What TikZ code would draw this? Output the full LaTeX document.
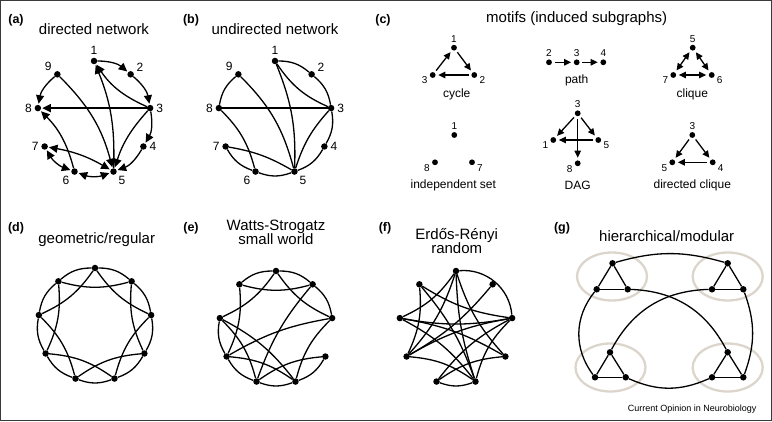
\documentclass[tikz,border=0pt]{standalone}
\usepackage{fontspec}
\setmainfont{Liberation Sans}
\usetikzlibrary{shapes.geometric, arrows.meta, positioning}
\usepackage{xcolor}
\definecolor{NetInk}{HTML}{000000}
\definecolor{NetFrame}{HTML}{3A3A3A}
\definecolor{NetModule}{HTML}{DCD5CB}
\tikzset{
    % Dot and text styles
    vertex/.style={
        circle,
        fill=NetInk,
        inner sep=0pt,
        minimum size=6.5pt
    },
    motifvertex/.style={
        circle,
        fill=NetInk,
        inner sep=0pt,
        minimum size=5.8pt
    },
    panel/.style={
        font=\fontsize{12.5}{14}\selectfont\bfseries
    },
    title/.style={
        font=\fontsize{15}{14.3}\selectfont,
        align=center
    },
    numlabel/.style={
        font=\fontsize{12}{14}\selectfont,
        inner sep=1.5pt
    },
    motiflabel/.style={
        font=\fontsize{10}{12}\selectfont,
        inner sep=1pt
    },
    caption/.style={
        font=\fontsize{12}{14}\selectfont
    },
    credit/.style={
        font=\fontsize{9}{11}\selectfont
    },
    module/.style={
        ellipse,
        draw=NetModule,
        line width=2.3pt,
        inner sep=0pt,
        minimum width=70pt,
        minimum height=48pt
    },
    outerframe/.style={
        draw=NetFrame,
        line width=1.2pt
    },
    % Line styles
    netline/.style={
        line width=1.3pt,
        draw=NetInk
    },
    rimline/.style={
        netline,
        bend left=20
    },
    chordline/.style={
        netline,
        bend right=15
    },
    arrow/.style={
        netline,
        -{Triangle[length=8.5pt, width=8pt]},
        shorten >=1pt
    },
    twoway/.style={
        netline,
        {Triangle[length=8.5pt, width=8pt]}-{Triangle[length=8.5pt, width=8pt]},
        shorten >=1pt,
        shorten <=1pt
    },
    motifarrow/.style={
        netline,
        -{Triangle[length=7pt, width=6.5pt]},
        shorten >=2.5pt,
        shorten <=2.5pt
    },
    motiftwoway/.style={
        netline,
        {Triangle[length=7pt, width=6.5pt]}-{Triangle[length=7pt, width=6.5pt]},
        shorten >=2.5pt,
        shorten <=2.5pt
    }
}

\begin{document}
\begin{tikzpicture}[x=1pt, y=1pt, label distance=1pt]
    \useasboundingbox (0,0) rectangle (772,421);
    \draw[outerframe] (0.6,0.6) rectangle (771.4,420.4);

    \node[panel] (alabel) at (16,401) {(a)};
    \node[title] (atitle) at (94,391.7) {directed network};
    \begin{scope}[shift={(94,303)}]
        \node[vertex, label={[numlabel]90:1}] (a1) at (90:57) {};
        \node[vertex, label={[numlabel]20:2}] (a2) at (50:57) {};
        \node[vertex, label={[numlabel]0:3}] (a3) at (10:57) {};
        \node[vertex, label={[numlabel]0:4}] (a4) at (-30:57) {};
        \node[vertex, label={[numlabel]-40:5}] (a5) at (-70:57) {};
        \node[vertex, label={[numlabel]-142:6}] (a6) at (-110:57) {};
        \node[vertex, label={[numlabel]180:7}] (a7) at (-150:57) {};
        \node[vertex, label={[numlabel]180:8}] (a8) at (170:57) {};
        \node[vertex, label={[numlabel]160:9}] (a9) at (130:57) {};
    \end{scope}

    \draw[arrow, bend left=20] (a1) to (a2);
    \draw[arrow, bend left=20] (a2) to (a3);
    \draw[arrow, bend left=16] (a3) to (a1);
    \draw[arrow] (a3) -- (a8);
    \draw[arrow, bend left=20] (a3) to (a4);
    \draw[arrow, bend right=12] (a3) to (a5);
    \draw[arrow, bend left=20] (a4) to (a5);
    \draw[arrow, bend right=12] (a5) to (a1);
    \draw[arrow, bend right=20] (a9) to (a8);
    \draw[arrow, bend left=15] (a9) to (a5);
    \draw[arrow, bend right=15] (a6) to (a8);
    \draw[twoway, bend left=10] (a7) to (a5);
    \draw[twoway, bend left=20] (a6) to (a7);
    \draw[twoway, bend left=20] (a5) to (a6);

    \node[panel] (blabel) at (191,401) {(b)};
    \node[title] (btitle) at (275,391.7) {undirected network};
    \begin{scope}[shift={(275,303)}]
        \node[vertex, label={[numlabel]90:1}] (b1) at (90:57) {};
        \node[vertex, label={[numlabel]20:2}] (b2) at (50:57) {};
        \node[vertex, label={[numlabel]0:3}] (b3) at (10:57) {};
        \node[vertex, label={[numlabel]0:4}] (b4) at (-30:57) {};
        \node[vertex, label={[numlabel]-40:5}] (b5) at (-70:57) {};
        \node[vertex, label={[numlabel]-142:6}] (b6) at (-110:57) {};
        \node[vertex, label={[numlabel]180:7}] (b7) at (-150:57) {};
        \node[vertex, label={[numlabel]180:8}] (b8) at (170:57) {};
        \node[vertex, label={[numlabel]160:9}] (b9) at (130:57) {};
    \end{scope}

    \draw[rimline] (b1) to (b2);
    \draw[rimline] (b2) to (b3);
    \draw[netline, bend right=16] (b1) to (b3);
    \draw[netline] (b3) -- (b8);
    \draw[rimline] (b3) to (b4);
    \draw[netline, bend right=12] (b3) to (b5);
    \draw[rimline] (b4) to (b5);
    \draw[netline, bend left=12] (b1) to (b5);
    \draw[rimline] (b8) to (b9);
    \draw[netline, bend left=15] (b9) to (b5);
    \draw[netline, bend left=15] (b8) to (b6);
    \draw[netline, bend left=10] (b7) to (b5);
    \draw[rimline] (b6) to (b7);
    \draw[rimline] (b5) to (b6);

    \node[panel] (clabel) at (383,401) {(c)};
    \node[title] (ctitle) at (576.7,402.5) {motifs (induced subgraphs)};

    \node[motifvertex, label={[motiflabel]90:1}] (cyc1) at (454,373.3) {};
    \node[motifvertex, label={[motiflabel]190:3}] (cyc3) at (432.7,346) {};
    \node[motifvertex, label={[motiflabel]-10:2}] (cyc2) at (474.3,346) {};
    \draw[motifarrow] (cyc3) -- (cyc1);
    \draw[motifarrow] (cyc1) -- (cyc2);
    \draw[motifarrow] (cyc2) -- (cyc3);
    \node[caption] (cyccap) at (456.7,327) {cycle};

    \node[motifvertex, label={[motiflabel]90:2}] (path2) at (549,358.7) {};
    \node[motifvertex, label={[motiflabel]90:3}] (path3) at (576.7,358.7) {};
    \node[motifvertex, label={[motiflabel]90:4}] (path4) at (603.3,358.7) {};
    \draw[motifarrow] (path2) -- (path3);
    \draw[motifarrow] (path3) -- (path4);
    \node[caption] (pathcap) at (576.7,341) {path};

    \node[motifvertex, label={[motiflabel]90:5}] (cliq5) at (692.7,373.3) {};
    \node[motifvertex, label={[motiflabel]190:7}] (cliq7) at (673.3,346) {};
    \node[motifvertex, label={[motiflabel]-10:6}] (cliq6) at (711.7,346) {};
    \draw[motiftwoway] (cliq7) -- (cliq5);
    \draw[motiftwoway] (cliq5) -- (cliq6);
    \draw[motiftwoway] (cliq7) -- (cliq6);
    \node[caption] (cliqcap) at (692.3,327) {clique};

    \node[motifvertex, label={[motiflabel]90:1}] (ind1) at (454.3,286) {};
    \node[motifvertex, label={[motiflabel]190:8}] (ind8) at (435,258.7) {};
    \node[motifvertex, label={[motiflabel]-10:7}] (ind7) at (472,258.7) {};
    \node[caption] (indcap) at (453.3,236) {independent set};

    \node[motifvertex, label={[motiflabel]90:3}] (dag3) at (577.7,307.7) {};
    \node[motifvertex, label={[motiflabel]190:1}] (dag1) at (553.3,281) {};
    \node[motifvertex, label={[motiflabel]-10:5}] (dag5) at (598.3,281) {};
    \node[motifvertex, label={[motiflabel]190:8}] (dag8) at (577.7,257.7) {};
    \draw[motifarrow] (dag3) -- (dag1);
    \draw[motifarrow] (dag3) -- (dag5);
    \draw[motifarrow] (dag5) -- (dag1);
    \draw[motifarrow] (dag3) -- (dag8);
    \node[caption] (dagcap) at (577.7,236) {DAG};

    \node[motifvertex, label={[motiflabel]90:3}] (dcl3) at (692.3,286) {};
    \node[motifvertex, label={[motiflabel]190:5}] (dcl5) at (672.3,258.7) {};
    \node[motifvertex, label={[motiflabel]-10:4}] (dcl4) at (712.7,258.7) {};
    \draw[motifarrow] (dcl3) -- (dcl5);
    \draw[motifarrow] (dcl3) -- (dcl4);
    \draw[motifarrow] (dcl4) -- (dcl5);
    \node[caption] (dclcap) at (692.3,236) {directed clique};

    \node[panel] (dlabel) at (16,192.7) {(d)};
    \node[title] (dtitle) at (96.7,181.7) {geometric/regular};
    \begin{scope}[shift={(95,96)}]
        \node[vertex] (d1) at (90:57) {};
        \node[vertex] (d2) at (50:57) {};
        \node[vertex] (d3) at (10:57) {};
        \node[vertex] (d4) at (-30:57) {};
        \node[vertex] (d5) at (-70:57) {};
        \node[vertex] (d6) at (-110:57) {};
        \node[vertex] (d7) at (-150:57) {};
        \node[vertex] (d8) at (170:57) {};
        \node[vertex] (d9) at (130:57) {};
    \end{scope}

    \draw[rimline] (d1) to (d2);
    \draw[rimline] (d2) to (d3);
    \draw[rimline] (d3) to (d4);
    \draw[rimline] (d4) to (d5);
    \draw[rimline] (d5) to (d6);
    \draw[rimline] (d6) to (d7);
    \draw[rimline] (d7) to (d8);
    \draw[rimline] (d8) to (d9);
    \draw[rimline] (d9) to (d1);
    \draw[chordline] (d1) to (d3);
    \draw[chordline] (d2) to (d4);
    \draw[chordline] (d3) to (d5);
    \draw[chordline] (d4) to (d6);
    \draw[chordline] (d5) to (d7);
    \draw[chordline] (d6) to (d8);
    \draw[chordline] (d7) to (d9);
    \draw[chordline] (d8) to (d1);
    \draw[chordline] (d9) to (d2);

    \node[panel] (elabel) at (191,192.7) {(e)};
    \node[title] (etitle) at (276,189) {Watts-Strogatz\\small world};
    \begin{scope}[shift={(276,93)}]
        \node[vertex] (e1) at (90:57) {};
        \node[vertex] (e2) at (50:57) {};
        \node[vertex] (e3) at (10:57) {};
        \node[vertex] (e4) at (-30:57) {};
        \node[vertex] (e5) at (-70:57) {};
        \node[vertex] (e6) at (-110:57) {};
        \node[vertex] (e7) at (-150:57) {};
        \node[vertex] (e8) at (170:57) {};
        \node[vertex] (e9) at (130:57) {};
    \end{scope}

    \draw[rimline] (e9) to (e1);
    \draw[rimline] (e1) to (e2);
    \draw[rimline] (e2) to (e3);
    \draw[rimline] (e4) to (e5);
    \draw[rimline] (e5) to (e6);
    \draw[rimline] (e6) to (e7);
    \draw[rimline] (e7) to (e8);
    \draw[chordline] (e1) to (e3);
    \draw[chordline] (e3) to (e5);
    \draw[chordline] (e4) to (e6);
    \draw[chordline] (e5) to (e7);
    \draw[chordline] (e6) to (e8);
    \draw[chordline] (e7) to (e9);
    \draw[chordline] (e8) to (e1);
    \draw[chordline] (e9) to (e2);
    \draw[netline, bend right=10] (e2) to (e6);
    \draw[netline, bend right=10] (e3) to (e7);
    \draw[netline, bend right=12] (e5) to (e8);

    \node[panel] (flabel) at (385,192.7) {(f)};
    \node[title] (ftitle) at (456.7,180) {Erdős-Rényi\\random};
    \begin{scope}[shift={(456,93)}]
        \node[vertex] (f1) at (90:57) {};
        \node[vertex] (f2) at (50:57) {};
        \node[vertex] (f3) at (10:57) {};
        \node[vertex] (f4) at (-30:57) {};
        \node[vertex] (f5) at (-70:57) {};
        \node[vertex] (f6) at (-110:57) {};
        \node[vertex] (f7) at (-150:57) {};
        \node[vertex] (f8) at (170:57) {};
        \node[vertex] (f9) at (130:57) {};
    \end{scope}

    \draw[netline, bend left=45] (f1) to (f3);
    \draw[netline, bend right=12] (f1) to (f4);
    \draw[netline, bend right=8] (f1) to (f5);
    \draw[netline, bend right=12] (f7) to (f1);
    \draw[netline, bend right=15] (f8) to (f1);
    \draw[netline, bend right=10] (f7) to (f2);
    \draw[netline, bend right=12] (f9) to (f3);
    \draw[netline, bend right=10] (f8) to (f3);
    \draw[netline, bend right=10] (f3) to (f7);
    \draw[netline, bend right=12] (f3) to (f6);
    \draw[netline, bend right=15] (f3) to (f5);
    \draw[netline, bend right=10] (f4) to (f8);
    \draw[netline, bend right=15] (f4) to (f6);
    \draw[rimline] (f5) to (f6);
    \draw[netline, bend right=12] (f5) to (f8);
    \draw[netline, bend right=10] (f5) to (f9);
    \draw[netline, bend right=15] (f7) to (f9);
    \draw[netline, bend right=15] (f5) to (f7);

    \node[panel] (glabel) at (562,192.7) {(g)};
    \node[title] (gtitle) at (666.7,185) {hierarchical/modular};

    \node[module] (ring1) at (612,144.5) {};
    \node[module] (ring2) at (727.7,144.5) {};
    \node[module] (ring3) at (610.5,53.5) {};
    \node[module] (ring4) at (727.7,53.5) {};

    \node[vertex] (m1t) at (612.5,157.7) {};
    \node[vertex] (m1l) at (596.7,131.7) {};
    \node[vertex] (m1r) at (627.7,131.7) {};
    \node[vertex] (m2t) at (727.7,157.7) {};
    \node[vertex] (m2l) at (712,131.7) {};
    \node[vertex] (m2r) at (743.3,131.7) {};
    \node[vertex] (m3t) at (610,68.7) {};
    \node[vertex] (m3l) at (595,43.7) {};
    \node[vertex] (m3r) at (625.7,43.7) {};
    \node[vertex] (m4t) at (727.7,68.7) {};
    \node[vertex] (m4l) at (712,43.7) {};
    \node[vertex] (m4r) at (743.3,43.7) {};

    \draw[netline] (m1t) -- (m1l);
    \draw[netline] (m1t) -- (m1r);
    \draw[netline] (m1l) -- (m1r);
    \draw[netline] (m2t) -- (m2l);
    \draw[netline] (m2t) -- (m2r);
    \draw[netline] (m2l) -- (m2r);
    \draw[netline] (m3t) -- (m3l);
    \draw[netline] (m3t) -- (m3r);
    \draw[netline] (m3l) -- (m3r);
    \draw[netline] (m4t) -- (m4l);
    \draw[netline] (m4t) -- (m4r);
    \draw[netline] (m4l) -- (m4r);

    \draw[netline, bend left=16] (m1t) to (m2t);
    \draw[netline, bend left=30] (m1r) to (m4t);
    \draw[netline, bend right=30] (m2l) to (m3t);
    \draw[netline, bend right=38] (m1l) to (m3l);
    \draw[netline, bend left=20] (m2r) to (m4r);
    \draw[netline, bend right=24] (m3r) to (m4l);

    \node[credit, anchor=east] (credit) at (760,11.7) {Current Opinion in Neurobiology};
\end{tikzpicture}
\end{document}
